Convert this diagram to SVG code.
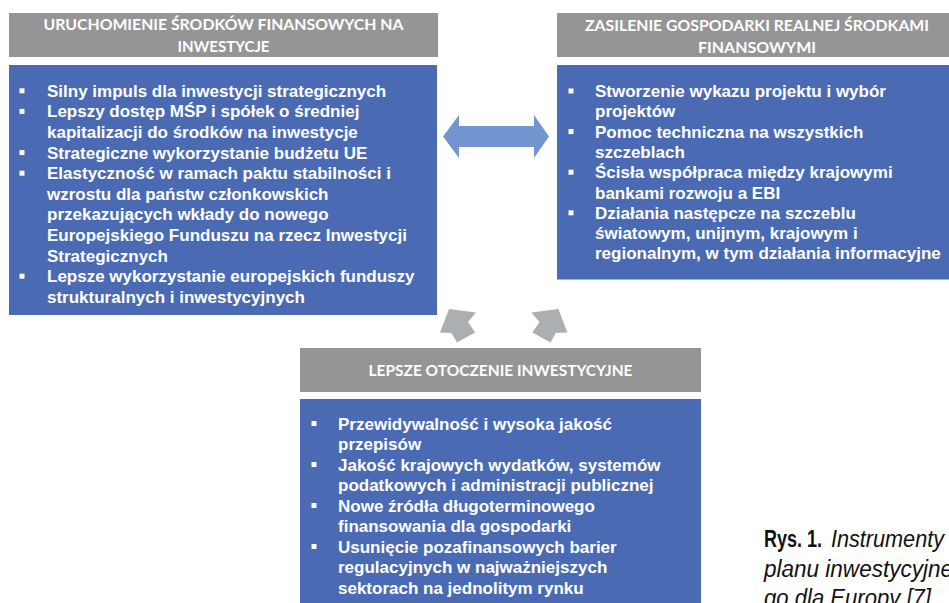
<svg xmlns="http://www.w3.org/2000/svg" width="949" height="603" viewBox="0 0 949 603">
<style>
.hdr{fill:#959595}
.box{fill:#4A6BB3}
.ht{font-family:Lato,"Open Sans","Liberation Sans",sans-serif;font-weight:700;font-size:15px;fill:#FFFFFF;text-anchor:middle}
.bt{font-family:"Liberation Sans",Arial,sans-serif;font-weight:700;font-size:17px;fill:#FFFFFF}
.bul{fill:#FFFFFF}
.dbl{fill:#7295CF}
.up{fill:#ABAFB2}
.cb{font-family:"Liberation Sans",Arial,sans-serif;font-weight:700;font-size:23px;fill:#111111}
.ci{font-family:"Liberation Sans",Arial,sans-serif;font-style:italic;font-size:23px;fill:#111111}
</style>
<rect width="949" height="603" fill="#FFFFFF"/>

<g id="node-left">
<rect class="hdr" x="9" y="13" width="429" height="44"/>
<text class="ht" x="223.5" y="30" textLength="360" lengthAdjust="spacingAndGlyphs">URUCHOMIENIE ŚRODKÓW FINANSOWYCH NA</text>
<text class="ht" x="223.5" y="52.3" textLength="92" lengthAdjust="spacingAndGlyphs">INWESTYCJE</text>
<rect class="box" x="9" y="65" width="428" height="250"/>
<rect class="bul" x="19.5" y="88.3" width="5" height="5"/>
<rect class="bul" x="19.5" y="108.9" width="5" height="5"/>
<rect class="bul" x="19.5" y="150.1" width="5" height="5"/>
<rect class="bul" x="19.5" y="170.7" width="5" height="5"/>
<rect class="bul" x="19.5" y="273.7" width="5" height="5"/>
<text class="bt" x="47" y="96.8">Silny impuls dla inwestycji strategicznych</text>
<text class="bt" x="47" y="117.4">Lepszy dostęp MŚP i spółek o średniej</text>
<text class="bt" x="47" y="138">kapitalizacji do środków na inwestycje</text>
<text class="bt" x="47" y="158.6">Strategiczne wykorzystanie budżetu UE</text>
<text class="bt" x="47" y="179.2">Elastyczność w ramach paktu stabilności i</text>
<text class="bt" x="47" y="199.8">wzrostu dla państw członkowskich</text>
<text class="bt" x="47" y="220.4">przekazujących wkłady do nowego</text>
<text class="bt" x="47" y="241">Europejskiego Funduszu na rzecz Inwestycji</text>
<text class="bt" x="47" y="261.6">Strategicznych</text>
<text class="bt" x="47" y="282.2">Lepsze wykorzystanie europejskich funduszy</text>
<text class="bt" x="47" y="302.8">strukturalnych i inwestycyjnych</text>
</g>

<g id="node-right">
<rect class="hdr" x="557" y="13" width="400" height="44"/>
<text class="ht" x="757" y="30.5" textLength="344" lengthAdjust="spacingAndGlyphs">ZASILENIE GOSPODARKI REALNEJ ŚRODKAMI</text>
<text class="ht" x="757" y="52.7" textLength="118" lengthAdjust="spacingAndGlyphs">FINANSOWYMI</text>
<rect class="box" x="557" y="65" width="400" height="214.5"/>
<rect class="bul" x="568.5" y="88.5" width="5" height="5"/>
<rect class="bul" x="568.5" y="129.1" width="5" height="5"/>
<rect class="bul" x="568.5" y="169.7" width="5" height="5"/>
<rect class="bul" x="568.5" y="210.3" width="5" height="5"/>
<text class="bt" x="595" y="97">Stworzenie wykazu projektu i wybór</text>
<text class="bt" x="595" y="117.3">projektów</text>
<text class="bt" x="595" y="137.6">Pomoc techniczna na wszystkich</text>
<text class="bt" x="595" y="157.9">szczeblach</text>
<text class="bt" x="595" y="178.2">Ścisła współpraca między krajowymi</text>
<text class="bt" x="595" y="198.5">bankami rozwoju a EBI</text>
<text class="bt" x="595" y="218.8">Działania następcze na szczeblu</text>
<text class="bt" x="595" y="239.1">światowym, unijnym, krajowym i</text>
<text class="bt" x="595" y="259.4">regionalnym, w tym działania informacyjne</text>
</g>

<g id="node-bottom">
<rect class="hdr" x="300" y="348" width="401" height="44"/>
<text class="ht" x="500.5" y="375.5" textLength="264" lengthAdjust="spacingAndGlyphs">LEPSZE OTOCZENIE INWESTYCYJNE</text>
<rect class="box" x="300" y="399" width="401" height="210"/>
<rect class="bul" x="311.5" y="421" width="5" height="5"/>
<rect class="bul" x="311.5" y="462" width="5" height="5"/>
<rect class="bul" x="311.5" y="503" width="5" height="5"/>
<rect class="bul" x="311.5" y="544" width="5" height="5"/>
<text class="bt" x="338" y="429.5">Przewidywalność i wysoka jakość</text>
<text class="bt" x="338" y="450">przepisów</text>
<text class="bt" x="338" y="470.5">Jakość krajowych wydatków, systemów</text>
<text class="bt" x="338" y="491">podatkowych i administracji publicznej</text>
<text class="bt" x="338" y="511.5">Nowe źródła długoterminowego</text>
<text class="bt" x="338" y="532">finansowania dla gospodarki</text>
<text class="bt" x="338" y="552.5">Usunięcie pozafinansowych barier</text>
<text class="bt" x="338" y="573">regulacyjnych w najważniejszych</text>
<text class="bt" x="338" y="593.5">sektorach na jednolitym rynku</text>
</g>

<g id="connectors">
<polygon class="dbl" points="443,136.5 459,115 459,126 534,126 534,115 549,136.5 534,158 534,147 459,147 459,158"/>
<polygon class="up" points="449,309 476,312.5 468,322 475,332.5 457,342.5 451.5,333 440,332.5"/>
<polygon class="up" points="558.4,309 531.4,312.5 539.4,322 532.4,332.5 550.4,342.5 555.9,333 567.4,332.5"/>
</g>

<g id="caption">
<text class="cb" x="764" y="546.7" textLength="58" lengthAdjust="spacingAndGlyphs">Rys. 1.</text>
<text class="ci" x="831" y="546.7" textLength="113" lengthAdjust="spacingAndGlyphs">Instrumenty</text>
<text class="ci" x="764" y="576.5" textLength="189" lengthAdjust="spacingAndGlyphs">planu inwestycyjne</text>
<text class="ci" x="764" y="606" textLength="167" lengthAdjust="spacingAndGlyphs">go dla Europy [7]</text>
</g>
</svg>
